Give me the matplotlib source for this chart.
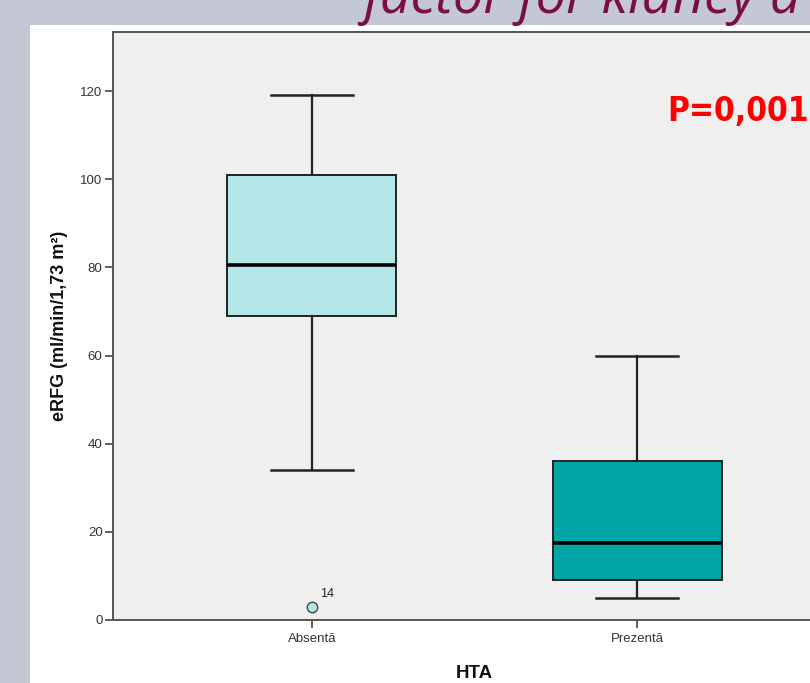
import matplotlib
matplotlib.use("Agg")
import matplotlib.pyplot as plt
from matplotlib.patches import Rectangle

plt.rcParams['font.family'] = ['Liberation Sans', 'DejaVu Sans']

# eRFG descriptives per HTA group
groups = ['Absentă', 'Prezentă']
whisker_low = [34, 5]
q1 = [69, 9]
median = [80.5, 17.5]
q3 = [101, 36]
whisker_high = [119, 60]
outliers = [[3], []]
outlier_ids = [['14'], []]
box_colors = ['#b4e6e8', '#00a5a5']
y_ticks = [0, 20, 40, 60, 80, 100, 120]

fig = plt.figure(figsize=(8.10, 6.83), dpi=100, facecolor='#c3c8d4')

# slide background: white panel and the cut title line
fig.patches.append(Rectangle((30 / 810, 0), 1, (683 - 25) / 683,
                             transform=fig.transFigure, facecolor='white',
                             edgecolor='none', zorder=-5))
fig.text(363 / 810, (683 - 13) / 683, 'factor for kidney d', fontsize=39,
         style='italic', color='#7b0f42', va='baseline', ha='left',
         family=['Open Sans', 'DejaVu Sans'])

ax = fig.add_axes([113 / 810, (683 - 620) / 683, 723 / 810, 588 / 683])
ax.set_facecolor('#efefef')

stats = []
for i in range(len(groups)):
    stats.append({
        'label': groups[i],
        'whislo': whisker_low[i],
        'q1': q1[i],
        'med': median[i],
        'q3': q3[i],
        'whishi': whisker_high[i],
        'fliers': outliers[i],
    })

bp = ax.bxp(stats, positions=[1, 2], widths=0.52, patch_artist=True,
            showfliers=True,
            boxprops=dict(edgecolor='#222222', linewidth=1.4),
            medianprops=dict(color='black', linewidth=2.6),
            whiskerprops=dict(color='#222222', linewidth=1.6),
            capprops=dict(color='#222222', linewidth=1.8),
            capwidths=0.255,
            flierprops=dict(marker='o', markersize=7.5, markeredgecolor='#444444',
                            markeredgewidth=1.0, markerfacecolor=box_colors[0]))
for patch, c in zip(bp['boxes'], box_colors):
    patch.set_facecolor(c)

# case number next to the outlier
for i in range(len(groups)):
    for val, lab in zip(outliers[i], outlier_ids[i]):
        ax.annotate(lab, (i + 1, val), xytext=(6, 5), textcoords='offset points',
                    fontsize=9, color='#222222', ha='left', va='bottom')

ax.text(667, 683 - 121, 'P=0,001', fontsize=24, fontweight='bold', color='#ff0000',
        family=['DejaVu Sans'], fontstretch='condensed', transform=None,
        va='baseline')

ax.set_xlim(0.388, 2.612)
ax.set_ylim(0, 133.4)
ax.set_yticks(y_ticks)
ax.set_xticks([1, 2])
ax.set_xticklabels(groups)
ax.tick_params(axis='both', direction='out', length=5.5, width=1.2,
               color='#444444', labelsize=9.5, labelcolor='#333333', pad=2)
ax.tick_params(axis='x', pad=3.5)

for s in ax.spines.values():
    s.set_color('#555555')
    s.set_linewidth(1.4)

ax.set_ylabel('eRFG (ml/min/1,73 m²)', fontsize=13, fontweight='bold',
              color='#111111', labelpad=9)
ax.set_xlabel('HTA', fontsize=13.5, fontweight='bold', color='#111111', labelpad=15)

fig.savefig('out.png', dpi=100, facecolor=fig.get_facecolor())
